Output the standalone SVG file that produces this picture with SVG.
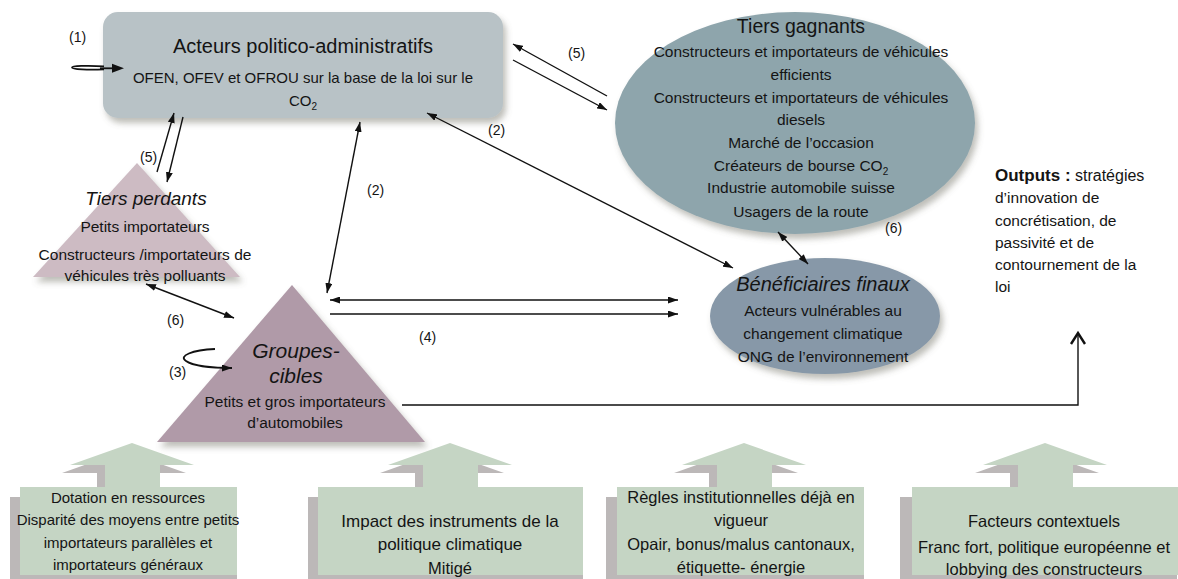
<svg xmlns="http://www.w3.org/2000/svg" width="1178" height="579" viewBox="0 0 1178 579">
  <defs>
    <style>
      text { font-family: "Liberation Sans", Arial, sans-serif; fill: #141414; }
      .c { text-anchor: middle; }
      .t20 { font-size: 20px; }
      .it { font-style: italic; }
      .b15 { font-size: 15px; }
      .b155 { font-size: 15.5px; }
      .b165 { font-size: 16.5px; }
      .b17 { font-size: 17px; }
      .lbl { font-size: 14px; }
      .ln { stroke: #111; stroke-width: 1.4; fill: none; }
      .head { fill: #111; }
      .green { fill: #c5d5c4; }
      .gshadow { fill: #bcb8b8; }
    </style>
    <filter id="soft" x="-20%" y="-20%" width="150%" height="160%">
      <feDropShadow dx="3" dy="5" stdDeviation="3" flood-color="#6e6e60" flood-opacity="0.45"/>
    </filter>
    <marker id="ah" viewBox="0 0 10 7" refX="10" refY="3.5" markerWidth="10" markerHeight="7" markerUnits="userSpaceOnUse" orient="auto-start-reverse">
      <path d="M0,0 L10,3.5 L0,7 z" fill="#111"/>
    </marker>
    <!-- upward block arrow used above each factor box -->
    <path id="uparrow" d="M0,0 L62,22 L28,22 L28,44 L-27,44 L-27,22 L-62,22 z"/>
  </defs>

  <rect width="1178" height="579" fill="#ffffff"/>

  <!-- Political-administrative actors -->
  <g id="acteurs">
    <rect x="103" y="12" width="400" height="106" rx="15" fill="#b8c2c6" filter="url(#soft)"/>
    <text class="c t20" x="303" y="53">Acteurs politico-administratifs</text>
    <text class="c b15" x="303" y="83">OFEN, OFEV et OFROU sur la base de la loi sur le</text>
    <text class="c b15" x="303" y="106">CO<tspan font-size="10" dy="4">2</tspan></text>
  </g>

  <!-- Winning third parties -->
  <g id="tiers-gagnants">
    <ellipse cx="795" cy="123" rx="180" ry="111" fill="#8ea5ac" filter="url(#soft)"/>
    <text class="c" x="801" y="33" style="font-size:19.5px">Tiers gagnants</text>
    <text class="c b155" x="801" y="57">Constructeurs et importateurs de véhicules</text>
    <text class="c b155" x="801" y="80">efficients</text>
    <text class="c b155" x="801" y="103">Constructeurs et importateurs de véhicules</text>
    <text class="c b155" x="801" y="125">diesels</text>
    <text class="c b155" x="801" y="148">Marché de l’occasion</text>
    <text class="c b155" x="801" y="171">Créateurs de bourse CO<tspan font-size="10" dy="4">2</tspan></text>
    <text class="c b155" x="801" y="193">Industrie automobile suisse</text>
    <text class="c b155" x="801" y="217">Usagers de la route</text>
  </g>

  <!-- Losing third parties -->
  <g id="tiers-perdants">
    <polygon points="137,163 240,277 33,277" fill="#cdbbc3" filter="url(#soft)"/>
    <text class="c it" x="146" y="205" style="font-size:19px">Tiers perdants</text>
    <text class="c b155" x="145" y="232">Petits importateurs</text>
    <text class="c b155" x="145" y="260">Constructeurs /importateurs de</text>
    <text class="c b155" x="145" y="281">véhicules très polluants</text>
  </g>

  <!-- Target groups -->
  <g id="groupes-cibles">
    <polygon points="292,285 425,442 157,442" fill="#b09aa8" filter="url(#soft)"/>
    <text class="c it" x="296" y="358" style="font-size:21px">Groupes-</text>
    <text class="c it" x="296" y="383" style="font-size:21px">cibles</text>
    <text class="c b155" x="295" y="407">Petits et gros importateurs</text>
    <text class="c b155" x="295" y="428">d’automobiles</text>
  </g>

  <!-- Final beneficiaries -->
  <g id="beneficiaires">
    <ellipse cx="825" cy="316" rx="115" ry="58" fill="#8798a8" filter="url(#soft)"/>
    <text class="c it t20" x="823" y="291">Bénéficiaires finaux</text>
    <text class="c b155" x="823" y="316">Acteurs vulnérables au</text>
    <text class="c b155" x="823" y="339">changement climatique</text>
    <text class="c b155" x="823" y="362">ONG de l’environnement</text>
  </g>

  <!-- Outputs -->
  <g id="outputs">
    <text x="995" y="181" style="font-size:16px"><tspan font-weight="bold" font-size="17">Outputs :</tspan> stratégies</text>
    <text class="b155" x="995" y="203">d’innovation de</text>
    <text class="b155" x="995" y="226">concrétisation, de</text>
    <text class="b155" x="995" y="248">passivité et de</text>
    <text class="b155" x="995" y="270">contournement de la</text>
    <text class="b155" x="995" y="292">loi</text>
  </g>

  <!-- Context factors -->
  <g id="dotation">
    <use href="#uparrow" x="124" y="451" class="gshadow"/>
    <rect x="10" y="497" width="227" height="90" class="gshadow"/>
    <use href="#uparrow" x="132" y="443" class="green"/>
    <rect x="20" y="487" width="217" height="88" class="green"/>
    <text class="c b15" x="128" y="503">Dotation en ressources</text>
    <text class="c b15" x="128" y="525">Disparité des moyens entre petits</text>
    <text class="c b15" x="128" y="548">importateurs parallèles et</text>
    <text class="c b15" x="128" y="570">importateurs généraux</text>
  </g>

  <g id="impact">
    <use href="#uparrow" x="442" y="451" class="gshadow"/>
    <rect x="308" y="497" width="275" height="90" class="gshadow"/>
    <use href="#uparrow" x="450" y="443" class="green"/>
    <rect x="318" y="487" width="265" height="88" class="green"/>
    <text class="c b17" x="450" y="527">Impact des instruments de la</text>
    <text class="c b17" x="450" y="550">politique climatique</text>
    <text class="c b165" x="450" y="574">Mitigé</text>
  </g>

  <g id="regles">
    <use href="#uparrow" x="736" y="451" class="gshadow"/>
    <rect x="606" y="497" width="258" height="90" class="gshadow"/>
    <use href="#uparrow" x="744" y="443" class="green"/>
    <rect x="617" y="487" width="247" height="88" class="green"/>
    <text class="c b165" x="741" y="503">Règles institutionnelles déjà en</text>
    <text class="c b165" x="741" y="526">vigueur</text>
    <text class="c b165" x="741" y="550">Opair, bonus/malus cantonaux,</text>
    <text class="c b165" x="741" y="573">étiquette- énergie</text>
  </g>

  <g id="facteurs">
    <use href="#uparrow" x="1037" y="451" class="gshadow"/>
    <rect x="900" y="497" width="277" height="90" class="gshadow"/>
    <use href="#uparrow" x="1045" y="443" class="green"/>
    <rect x="912" y="487" width="266" height="88" class="green"/>
    <text class="c b165" x="1044" y="527">Facteurs contextuels</text>
    <text class="c b165" x="1044" y="553">Franc fort, politique européenne et</text>
    <text class="c b165" x="1044" y="575">lobbying des constructeurs</text>
  </g>

  <!-- Connectors -->
  <g id="connectors">
    <!-- (1) self-loop into the actors box -->
    <path class="ln" style="stroke-width:1.8" d="M104,66.3 C86,65.3 72,66 72,67.5 C72,69.5 88,69.9 104,69.4"/>
    <line class="ln" style="stroke-width:1.8" x1="100" y1="68.3" x2="114" y2="68.3"/>
    <polygon class="head" points="112,63.8 124,68.3 112,72.8"/>
    <!-- (5) acteurs / tiers gagnants -->
    <line class="ln" x1="607" y1="96" x2="513" y2="44" marker-end="url(#ah)"/>
    <line class="ln" x1="513" y1="60" x2="607" y2="110" marker-end="url(#ah)"/>
    <!-- (5) acteurs / tiers perdants -->
    <line class="ln" x1="157" y1="172" x2="174" y2="113" marker-end="url(#ah)"/>
    <line class="ln" x1="183" y1="117" x2="167" y2="182" marker-end="url(#ah)"/>
    <!-- (2) acteurs / groupes-cibles -->
    <line class="ln" x1="360" y1="122" x2="327" y2="293" marker-start="url(#ah)" marker-end="url(#ah)"/>
    <!-- (2) acteurs / beneficiaires -->
    <line class="ln" x1="427" y1="113" x2="733" y2="268" marker-start="url(#ah)" marker-end="url(#ah)"/>
    <!-- (6) tiers perdants / groupes-cibles -->
    <line class="ln" x1="146" y1="284" x2="234" y2="318" marker-start="url(#ah)" marker-end="url(#ah)"/>
    <!-- (6) tiers gagnants / beneficiaires -->
    <line class="ln" x1="778" y1="232" x2="808" y2="264" marker-start="url(#ah)" marker-end="url(#ah)"/>
    <!-- (4) -->
    <line class="ln" x1="330" y1="300" x2="678" y2="300" marker-start="url(#ah)" marker-end="url(#ah)"/>
    <line class="ln" x1="330" y1="314" x2="678" y2="314" marker-end="url(#ah)"/>
    <!-- (3) -->
    <path class="ln" style="stroke-width:1.8" d="M215,349 C192,350 178,356 186,361 C193,366 214,368 232,368" marker-end="url(#ah)"/>
    <!-- groupes-cibles to outputs -->
    <polyline class="ln" points="402,405 1078,405 1078,334"/>
    <polyline class="ln" style="stroke-width:2.4" points="1071,344 1078,333 1085,344"/>
  </g>

  <!-- Relation numbers -->
  <g id="labels" class="lbl">
    <text x="69" y="42">(1)</text>
    <text x="568" y="58">(5)</text>
    <text x="140" y="162">(5)</text>
    <text x="488" y="135">(2)</text>
    <text x="367" y="195">(2)</text>
    <text x="167" y="325">(6)</text>
    <text x="885" y="233">(6)</text>
    <text x="169" y="377">(3)</text>
    <text x="419" y="342">(4)</text>
  </g>
</svg>
